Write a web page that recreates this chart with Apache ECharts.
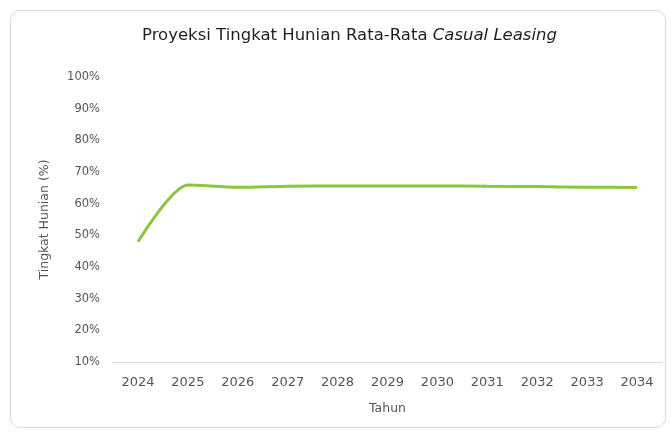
<!DOCTYPE html>
<html>
<head>
<meta charset="utf-8">
<script src="https://cdn.jsdelivr.net/npm/echarts@6/dist/echarts.min.js"></script>
<style>
html,body{margin:0;padding:0;background:#fff;}
#frame{position:absolute;left:10px;top:10px;width:656px;height:418px;border:1px solid #d9d9d9;border-radius:10px;box-sizing:border-box;}
#chart{position:absolute;left:0;top:0;width:671px;height:432px;}
</style>
</head>
<body>
<div id="frame"></div>
<div id="chart"></div>
<script>
const years = ['2024','2025','2026','2027','2028','2029','2030','2031','2032','2033','2034'];
const occupancy = [48.0, 65.9, 65.2, 65.5, 65.6, 65.6, 65.6, 65.5, 65.4, 65.2, 65.1];
const yMin = 10, yMax = 100, yStep = 10;

const chart = echarts.init(document.getElementById('chart'), null, {renderer:'canvas'});
const FONT = '"DejaVu Sans", sans-serif';
chart.setOption({
  animation: false,
  backgroundColor: 'transparent',
  title: {
    text: '{n|Proyeksi Tingkat Hunian Rata-Rata }{i|Casual Leasing}',
    left: 137, top: 22,
    textStyle: {
      rich: {
        n: {fontFamily: FONT, fontSize: 16.5, color: '#1f1f1f', fontWeight: 'normal'},
        i: {fontFamily: FONT, fontSize: 16.5, color: '#1f1f1f', fontStyle: 'italic', fontWeight: 'normal'}
      }
    }
  },
  grid: {left: 113, right: 9, top: 77, bottom: 70},
  xAxis: {
    type: 'category',
    data: years,
    boundaryGap: true,
    name: 'Tahun',
    nameLocation: 'middle',
    nameGap: 40,
    nameTextStyle: {fontFamily: FONT, fontSize: 12.5, color: '#555'},
    axisLine: {lineStyle: {color: '#d9d9d9', width: 1}},
    axisTick: {show: false},
    axisLabel: {fontFamily: FONT, fontSize: 13, color: '#555', margin: 14}
  },
  yAxis: {
    type: 'value',
    min: yMin, max: yMax, interval: yStep,
    name: 'Tingkat Hunian (%)',
    nameLocation: 'middle',
    nameGap: 62,
    nameTextStyle: {fontFamily: FONT, fontSize: 12.5, color: '#555'},
    axisLine: {show: false},
    axisTick: {show: false},
    splitLine: {show: false},
    axisLabel: {fontFamily: FONT, fontSize: 11.5, color: '#555', margin: 13, formatter: '{value}%'}
  },
  series: [{
    type: 'line',
    data: occupancy,
    smooth: 0.25,
    symbol: 'none',
    lineStyle: {color: '#8cc63f', width: 3}
  }]
});
</script>
</body>
</html>
